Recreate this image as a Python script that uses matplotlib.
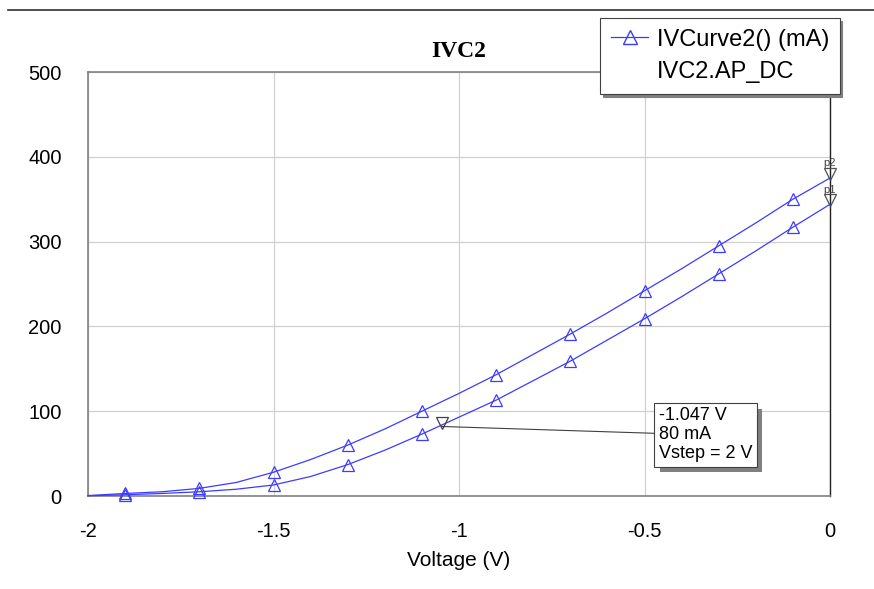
import numpy as np
import matplotlib.pyplot as plt
from matplotlib.lines import Line2D
from matplotlib import patheffects
from matplotlib.transforms import offset_copy

plt.rcParams['font.family'] = ['Liberation Sans', 'DejaVu Sans']

# IV curve (V, mA)
voltage = [-2.0, -1.9, -1.8, -1.7, -1.6, -1.5, -1.4, -1.3, -1.2, -1.1, -1.0,
           -0.9, -0.8, -0.7, -0.6, -0.5, -0.4, -0.3, -0.2, -0.1, 0.0]
curve_upper = [0.5, 3, 5, 9, 16, 28, 43, 60, 79, 100, 121,
               143, 167, 191, 216, 242, 268, 295, 322, 350, 375]
curve_lower = [0.3, 1.5, 3, 5, 8, 13, 23, 37, 54, 73, 93,
               113, 136, 159, 184, 209, 235, 262, 289, 317, 344]

# markers
m_v, m_i = -1.047, 80
p_labels = ['p2', 'p1']
p_vals = [375, 344]

blue = '#3c3cff'

fig = plt.figure(figsize=(8.74, 5.89), dpi=100)
ax = fig.add_axes([88/874, 1-496/589, (830-88)/874, (496-72)/589])

for ys in (curve_upper, curve_lower):
    ax.plot(voltage, ys, color=blue, linewidth=0.9, marker='^', markersize=9,
            markerfacecolor='none', markeredgecolor=blue, markeredgewidth=0.9,
            markevery=slice(1, 20, 2), clip_on=False, zorder=3)

ax.set_xlim(-2, 0)
ax.set_ylim(0, 500)
ax.set_xticks([-2, -1.5, -1, -0.5, 0])
ax.set_xticklabels(['-2', '-1.5', '-1', '-0.5', '0'])
ax.set_yticks([0, 100, 200, 300, 400, 500])
ax.tick_params(length=0, labelsize=14.5, colors='black')
ax.tick_params(axis='x', pad=19)
ax.tick_params(axis='y', pad=19)
ax.grid(True, color='#d0d0d0', linewidth=0.9)
ax.set_axisbelow(True)
for s in ['left', 'bottom', 'top']:
    ax.spines[s].set_color('#808080')
    ax.spines[s].set_linewidth(1.2)
ax.spines['right'].set_color('#202020')
ax.spines['right'].set_linewidth(1.0)

ax.set_xlabel('Voltage (V)', fontsize=15, labelpad=7)
ax.set_title('IVC2', fontsize=17, fontweight='bold', family='Liberation Serif', pad=11)

# p1 / p2 markers at the right edge
for lab, val in zip(p_labels, p_vals):
    tr = offset_copy(ax.transData, fig=fig, x=0, y=3, units='points')
    ax.plot([0], [val], marker='v', markersize=9, markerfacecolor='none',
            markeredgecolor='#505050', markeredgewidth=0.9, transform=tr, clip_on=False, zorder=4)
    ax.annotate(lab, (0, val), xytext=(0, 7), textcoords='offset points',
                fontsize=8, ha='center', va='bottom', color='#404040', annotation_clip=False)

# readout marker
tr_m = offset_copy(ax.transData, fig=fig, x=0, y=4, units='points')
ax.plot([m_v], [m_i], marker='v', markersize=9, markerfacecolor='none',
        markeredgecolor='#404040', markeredgewidth=0.9, transform=tr_m, zorder=4)
t = ax.annotate('-1.047 V\n80 mA\nVstep = 2 V', xy=(m_v, m_i + 2), xytext=(-0.462, 72),
                fontsize=13, ha='left', va='center', linespacing=1.15,
                bbox=dict(boxstyle='square,pad=0.25', facecolor='white', edgecolor='#404040', linewidth=0.8),
                arrowprops=dict(arrowstyle='-', color='#404040', linewidth=0.8, shrinkA=0, shrinkB=0),
                zorder=5)
t.get_bbox_patch().set_path_effects([
    patheffects.withSimplePatchShadow(offset=(4, -4), shadow_rgbFace='#808080', alpha=1)])

# legend
h1 = Line2D([], [], color=blue, linewidth=0.9, marker='^', markersize=10,
            markerfacecolor='none', markeredgecolor=blue)
h2 = Line2D([], [], color='none')
leg = fig.legend([h1, h2], ['IVCurve2() (mA)', 'IVC2.AP_DC'], loc='upper left',
                 bbox_to_anchor=(600/874, 1-18/589), fontsize=17, frameon=True,
                 fancybox=False, shadow={'color': '#808080', 'alpha': 1}, edgecolor='#404040',
                 handlelength=1.6, handletextpad=0.35, borderpad=0.45, labelspacing=0.45,
                 borderaxespad=0)
leg.get_frame().set_linewidth(0.8)

# top rule
fig.add_artist(Line2D([8/874, 1], [1-10/589, 1-10/589], color='#303030', linewidth=1.2))

fig.savefig('out.png', dpi=100)
